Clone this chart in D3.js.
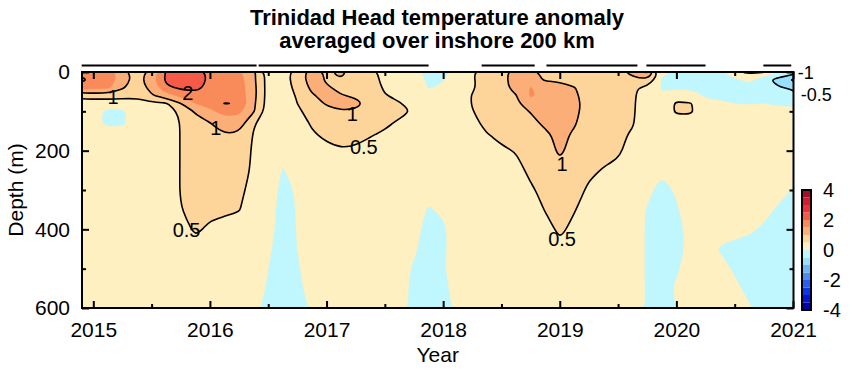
<!DOCTYPE html>
<html><head><meta charset="utf-8">
<script src="https://cdn.jsdelivr.net/npm/d3@7"></script>
<style>
body{margin:0;background:#fff}
svg{display:block}
text{font-family:"Liberation Sans",Arial,Helvetica,sans-serif;fill:#000}
</style>
</head><body>
<svg id="chart" width="850" height="377"></svg>
<script>
// ---------------- data ----------------
const titleLines = ["Trinidad Head temperature anomaly", "averaged over inshore 200 km"];
const xLabel = "Year";
const yLabel = "Depth (m)";

// time grid (decimal year) of the gridded section
const years = [2014.875,2015.0,2015.125,2015.25,2015.375,2015.5,2015.625,2015.75,2015.875,2016.0,
  2016.125,2016.25,2016.375,2016.5,2016.625,2016.75,2016.875,2017.0,2017.125,2017.25,
  2017.375,2017.5,2017.625,2017.75,2017.875,2018.0,2018.125,2018.25,2018.375,2018.5,
  2018.625,2018.75,2018.875,2019.0,2019.125,2019.25,2019.375,2019.5,2019.625,2019.75,
  2019.875,2020.0,2020.125,2020.25,2020.375,2020.5,2020.625,2020.75,2020.875,2021.0];
// depth grid (m)
const depths = [0,20,40,60,80,100,130,160,200,250,300,350,400,450,500,550,600];

// temperature anomaly (deg C); one row per time, values by depth
const anomaly = [
 [1.8,2.2,1.7,0.75,0.2,0.15,0.15,0.2,0.25,0.25,0.25,0.25,0.25,0.25,0.25,0.25,0.25],
 [1.8,1.9,1.6,0.7,0.25,0.15,0.1,0.15,0.2,0.25,0.25,0.25,0.25,0.25,0.25,0.25,0.25],
 [1.8,1.8,1.6,0.75,0.2,-0.1,-0.08,0.15,0.2,0.25,0.25,0.25,0.25,0.25,0.25,0.25,0.25],
 [1.2,1.25,1.05,0.7,0.2,-0.05,-0.05,0.15,0.2,0.25,0.25,0.25,0.25,0.25,0.25,0.25,0.25],
 [0.75,0.8,0.75,0.6,0.3,0.15,0.15,0.2,0.2,0.25,0.25,0.25,0.25,0.25,0.25,0.25,0.25],
 [1.2,1.3,1.15,0.95,0.4,0.2,0.2,0.2,0.2,0.25,0.25,0.25,0.25,0.25,0.25,0.25,0.25],
 [2.05,2.1,1.9,1.3,0.45,0.25,0.2,0.2,0.2,0.2,0.25,0.25,0.25,0.25,0.25,0.25,0.25],
 [2.3,2.3,2.1,1.6,1.0,0.6,0.52,0.52,0.52,0.52,0.52,0.48,0.3,0.25,0.25,0.25,0.25],
 [2.4,2.4,2.15,1.8,1.5,1.05,0.85,0.8,0.8,0.8,0.75,0.7,0.58,0.3,0.25,0.2,0.2],
 [1.8,1.85,1.85,1.75,1.65,1.4,0.98,0.85,0.75,0.7,0.65,0.6,0.42,0.25,0.2,0.2,0.2],
 [1.8,1.8,1.8,1.8,2.02,1.65,1.3,0.98,0.8,0.7,0.65,0.58,0.35,0.22,0.2,0.2,0.2],
 [1.6,1.7,1.75,1.75,1.98,1.6,1.25,0.9,0.78,0.72,0.62,0.52,0.3,0.22,0.2,0.2,0.2],
 [1.1,1.1,1.15,1.15,1.1,1.05,0.55,0.47,0.43,0.42,0.32,0.28,0.22,0.2,0.18,0.18,0.15],
 [0.3,0.3,0.3,0.3,0.28,0.25,0.22,0.2,0.2,0.22,0.25,0.22,0.15,0.05,0.0,-0.05,-0.15],
 [0.25,0.25,0.25,0.25,0.22,0.2,0.2,0.18,0.15,-0.02,-0.15,-0.2,-0.2,-0.15,-0.2,-0.2,-0.2],
 [0.75,0.75,0.65,0.55,0.5,0.42,0.3,0.25,0.2,0.1,0.05,0.03,0.02,0.0,-0.05,-0.1,-0.15],
 [1.2,1.2,1.1,0.95,0.8,0.68,0.55,0.45,0.3,0.2,0.2,0.2,0.2,0.2,0.2,0.15,0.05],
 [0.95,0.95,1.05,1.15,1.05,0.85,0.65,0.58,0.4,0.25,0.2,0.2,0.2,0.2,0.2,0.2,0.2],
 [1.1,0.98,0.9,1.02,1.15,0.98,0.72,0.6,0.48,0.3,0.2,0.2,0.2,0.2,0.2,0.2,0.2],
 [0.8,0.8,0.85,0.95,1.1,0.95,0.7,0.6,0.45,0.3,0.2,0.2,0.2,0.2,0.2,0.2,0.2],
 [0.65,0.65,0.7,0.8,0.88,0.8,0.65,0.52,0.38,0.25,0.2,0.2,0.2,0.2,0.2,0.2,0.2],
 [0.35,0.4,0.45,0.52,0.6,0.62,0.56,0.45,0.3,0.22,0.2,0.2,0.2,0.2,0.2,0.2,0.2],
 [0.25,0.3,0.35,0.42,0.52,0.58,0.45,0.35,0.25,0.2,0.18,0.15,0.15,0.15,0.15,0.15,0.15],
 [0.2,0.22,0.25,0.3,0.38,0.48,0.35,0.25,0.2,0.2,0.18,0.15,0.1,0.05,-0.05,-0.1,-0.1],
 [-0.15,-0.1,-0.02,0.1,0.15,0.2,0.2,0.2,0.2,0.15,0.1,-0.03,-0.12,-0.15,-0.2,-0.2,-0.2],
 [-0.05,-0.02,0.05,0.1,0.15,0.2,0.2,0.2,0.2,0.15,0.12,0.05,-0.05,-0.05,-0.03,-0.08,-0.12],
 [0.1,0.15,0.2,0.25,0.25,0.25,0.25,0.25,0.25,0.25,0.2,0.18,0.15,0.15,0.15,0.12,0.08],
 [0.48,0.45,0.45,0.52,0.52,0.48,0.4,0.3,0.25,0.25,0.22,0.2,0.2,0.2,0.2,0.2,0.2],
 [0.7,0.7,0.7,0.75,0.75,0.7,0.6,0.48,0.35,0.28,0.25,0.22,0.2,0.2,0.2,0.2,0.2],
 [0.85,0.85,0.85,0.85,0.85,0.8,0.7,0.58,0.45,0.32,0.25,0.22,0.2,0.2,0.2,0.2,0.2],
 [1.2,1.2,1.15,0.98,0.9,0.85,0.75,0.65,0.52,0.38,0.28,0.22,0.2,0.2,0.2,0.2,0.2],
 [1.1,1.2,1.52,1.55,1.3,1.02,0.88,0.8,0.7,0.58,0.45,0.3,0.25,0.2,0.2,0.2,0.2],
 [0.9,0.95,1.3,1.4,1.3,1.2,1.08,0.92,0.75,0.68,0.6,0.52,0.35,0.25,0.2,0.2,0.2],
 [0.8,0.92,1.2,1.3,1.35,1.3,1.2,1.1,1.1,0.8,0.7,0.62,0.58,0.4,0.25,0.2,0.2],
 [0.75,0.85,1.02,1.08,1.12,1.1,1.04,0.94,0.8,0.72,0.62,0.52,0.4,0.28,0.22,0.2,0.2],
 [0.75,0.75,0.78,0.8,0.82,0.82,0.78,0.72,0.65,0.56,0.45,0.35,0.28,0.22,0.2,0.2,0.2],
 [0.75,0.75,0.72,0.7,0.7,0.7,0.7,0.68,0.6,0.48,0.35,0.28,0.22,0.2,0.2,0.2,0.2],
 [0.75,0.72,0.68,0.65,0.65,0.62,0.6,0.58,0.56,0.4,0.3,0.25,0.22,0.2,0.2,0.2,0.2],
 [1.3,0.75,0.58,0.56,0.55,0.55,0.53,0.45,0.35,0.28,0.22,0.2,0.2,0.2,0.2,0.2,0.2],
 [1.7,0.98,0.35,0.3,0.28,0.25,0.22,0.2,0.15,0.12,0.1,-0.03,-0.05,-0.05,-0.05,-0.05,-0.02],
 [0.1,-0.05,-0.05,0.05,0.15,0.2,0.2,0.2,0.15,0.05,-0.15,-0.2,-0.2,-0.2,-0.2,-0.15,-0.1],
 [-0.05,-0.12,-0.08,0.3,0.56,0.56,0.3,0.2,0.2,0.2,0.05,-0.05,-0.15,-0.12,-0.05,0.05,0.0],
 [-0.05,-0.12,-0.1,0.25,0.52,0.56,0.3,0.2,0.2,0.2,0.2,0.2,0.15,0.1,0.15,0.2,0.2],
 [-0.05,-0.15,-0.12,-0.05,0.1,0.15,0.2,0.2,0.2,0.2,0.2,0.2,0.2,0.15,0.2,0.2,0.2],
 [-0.05,-0.15,-0.15,-0.08,0.05,0.15,0.2,0.2,0.2,0.2,0.2,0.18,0.15,-0.03,0.12,0.2,0.2],
 [0.45,-0.1,-0.15,-0.1,0.0,0.12,0.2,0.2,0.2,0.2,0.2,0.15,0.1,-0.1,-0.05,0.08,0.15],
 [0.6,0.1,-0.15,-0.12,-0.02,0.1,0.2,0.2,0.2,0.2,0.2,0.12,0.05,-0.12,-0.12,-0.1,0.03],
 [0.55,-0.35,-0.2,-0.1,0.0,0.1,0.2,0.2,0.2,0.2,0.18,0.1,-0.05,-0.15,-0.15,-0.15,-0.1],
 [0.0,-0.7,-0.45,-0.2,-0.05,0.1,0.2,0.2,0.2,0.18,0.12,-0.05,-0.15,-0.2,-0.2,-0.2,-0.2],
 [-0.2,-1.05,-0.6,-0.25,-0.05,0.1,0.2,0.2,0.2,0.1,-0.02,-0.15,-0.2,-0.2,-0.2,-0.2,-0.2]
];

// colour levels (band lower bounds) and colours
const bandLevels = [-4,-3.5,-3,-2.5,-2,-1.5,-1,-0.5,0,0.5,1,1.5,2,2.5,3,3.5];
const bandColors = ["#0000b0","#0612d6","#0a36ec","#2a5ef4","#4a8cf0","#6cb6f6","#98defd","#c0f6fe",
                    "#fef0c0","#fdd49a","#fcae78","#f98a5a","#f45a46","#ec3038","#d41c30","#a4102a"];
// contour lines drawn
const lineLevels = [-1,-0.5,0.5,1,2];

// contour labels
const labelText  = ["1","2","1","0.5","1","0.5","1","0.5","-1","-0.5"];
const labelYear  = [2015.17,2015.81,2016.05,2015.80,2017.22,2017.32,2019.02,2019.02,2021.11,2021.20];
const labelDepth = [64,53,143,400,107,191,234,424,1,56];
const labelSize  = [20,20,20,20,20,20,20,20,18,18];

// axis ticks
const yearTicks  = [2015,2016,2017,2018,2019,2020,2021];
const yearMinor  = [2015.5,2016.5,2017.5,2018.5,2019.5,2020.5];
const depthTicks = [0,200,400,600];
const depthMinor = [100,300,500];
const cbTicks    = [4,2,0,-2,-4];

// sampling periods shown above the plot
const sampleStart = [2014.90,2016.418,2018.33,2018.886,2019.743,2020.746];
const sampleEnd   = [2016.400,2017.875,2018.785,2019.666,2020.250,2020.985];

// ---------------- drawing ----------------
const svg = d3.select("#chart");
const L = 82, R = 793.5, T = 72, B = 308;

const x = d3.scaleLinear().domain([2015, 2021]).range([93.3, 793]);
const y = d3.scaleLinear().domain([0, 600]).range([T, B]);

const nx = years.length, ny = depths.length;
const grid = new Array(nx * ny);
for (let i = 0; i < nx; i++) for (let j = 0; j < ny; j++) grid[j * nx + i] = anomaly[i][j];

const colToYear = d3.scaleLinear().domain([0, nx - 1]).range([years[0], years[nx - 1]]);
const rowToDepth = d3.scaleLinear().domain(d3.range(ny)).range(depths);
const toPx = ([px, py]) => [x(colToYear(px - 0.5)), y(rowToDepth(py - 0.5))];
const ringLine = d3.line().curve(d3.curveBasisClosed);
function smoothPath(mp) {
  return mp.coordinates.map(poly =>
    poly.map(ring => ringLine(ring.slice(0, -1).map(toPx))).join("")
  ).join("");
}

svg.append("clipPath").attr("id", "plotclip")
  .append("rect").attr("x", L).attr("y", T).attr("width", R - L).attr("height", B - T);

const plot = svg.append("g").attr("clip-path", "url(#plotclip)");
const contourGen = d3.contours().size([nx, ny]);

plot.selectAll("path.band")
  .data(contourGen.thresholds(bandLevels)(grid))
  .join("path").attr("class", "band")
  .attr("d", smoothPath)
  .attr("fill-rule", "evenodd")
  .attr("fill", (d, i) => bandColors[i])
  .attr("stroke", (d, i) => bandColors[i]).attr("stroke-width", 0.4);

plot.selectAll("path.iso")
  .data(contourGen.thresholds(lineLevels)(grid))
  .join("path").attr("class", "iso")
  .attr("d", smoothPath)
  .attr("fill", "none").attr("stroke", "#000").attr("stroke-width", 1.6)
  .attr("stroke-linejoin", "round");

// contour labels
svg.append("g").selectAll("text")
  .data(labelText)
  .join("text")
  .attr("x", (d, i) => x(labelYear[i]))
  .attr("y", (d, i) => y(labelDepth[i]))
  .attr("dy", "0.36em")
  .attr("text-anchor", "middle")
  .attr("font-size", (d, i) => labelSize[i])
  .text(d => d);

// axes
function styleAxis(g) {
  g.select(".domain").remove();
  g.selectAll(".tick line").attr("stroke", "#000").attr("stroke-width", 2);
  g.selectAll(".tick text").attr("font-size", 21).attr("fill", "#000");
}
svg.append("g").attr("transform", `translate(0,${B})`)
  .call(d3.axisBottom(x).tickValues(yearTicks).tickSize(-7).tickPadding(14).tickFormat(d3.format("d")))
  .call(styleAxis);
svg.append("g").attr("transform", `translate(0,${B})`)
  .call(d3.axisBottom(x).tickValues(yearMinor).tickSize(-4).tickFormat(""))
  .call(styleAxis);
svg.append("g").attr("transform", `translate(0,${T})`)
  .call(d3.axisTop(x).tickValues(yearTicks).tickSize(-7).tickFormat(""))
  .call(styleAxis);
svg.append("g").attr("transform", `translate(0,${T})`)
  .call(d3.axisTop(x).tickValues(yearMinor).tickSize(-4).tickFormat(""))
  .call(styleAxis);
svg.append("g").attr("transform", `translate(${L},0)`)
  .call(d3.axisLeft(y).tickValues(depthTicks).tickSize(-7).tickPadding(12))
  .call(styleAxis);
svg.append("g").attr("transform", `translate(${L},0)`)
  .call(d3.axisLeft(y).tickValues(depthMinor).tickSize(-4).tickFormat(""))
  .call(styleAxis);
svg.append("g").attr("transform", `translate(${R},0)`)
  .call(d3.axisRight(y).tickValues(depthTicks).tickSize(-7).tickFormat(""))
  .call(styleAxis);
svg.append("g").attr("transform", `translate(${R},0)`)
  .call(d3.axisRight(y).tickValues(depthMinor).tickSize(-4).tickFormat(""))
  .call(styleAxis);

// frame
svg.append("rect").attr("x", L).attr("y", T).attr("width", R - L).attr("height", B - T)
  .attr("fill", "none").attr("stroke", "#000").attr("stroke-width", 2);

// sampling bars
svg.append("g").selectAll("line")
  .data(sampleStart)
  .join("line")
  .attr("x1", d => x(d)).attr("x2", (d, i) => x(sampleEnd[i]))
  .attr("y1", 65.5).attr("y2", 65.5)
  .attr("stroke", "#000").attr("stroke-width", 2);

// titles
svg.append("g").selectAll("text").data(titleLines).join("text")
  .attr("x", 437).attr("y", (d, i) => 25 + i * 23)
  .attr("text-anchor", "middle").attr("font-size", 22).attr("font-weight", "bold")
  .text(d => d);
svg.append("text").attr("x", (L + R) / 2).attr("y", 362)
  .attr("text-anchor", "middle").attr("font-size", 21).text(xLabel);
svg.append("text").attr("transform", "translate(23,190) rotate(-90)")
  .attr("text-anchor", "middle").attr("font-size", 21).text(yLabel);

// colour bar
const cb = d3.scaleLinear().domain([-4, 4]).range([310, 190]);
const cbX = 802, cbW = 9;
svg.append("g").selectAll("rect").data(bandLevels).join("rect")
  .attr("x", cbX).attr("width", cbW)
  .attr("y", d => cb(d + 0.5)).attr("height", d => cb(d) - cb(d + 0.5))
  .attr("fill", (d, i) => bandColors[i]);
svg.append("rect").attr("x", cbX).attr("y", cb(4)).attr("width", cbW).attr("height", cb(-4) - cb(4))
  .attr("fill", "none").attr("stroke", "#000").attr("stroke-width", 2);
svg.append("g").selectAll("text").data(cbTicks).join("text")
  .attr("x", 823).attr("y", d => cb(d)).attr("dy", "0.36em")
  .attr("font-size", 20).text(d => d);
</script>
</body></html>
